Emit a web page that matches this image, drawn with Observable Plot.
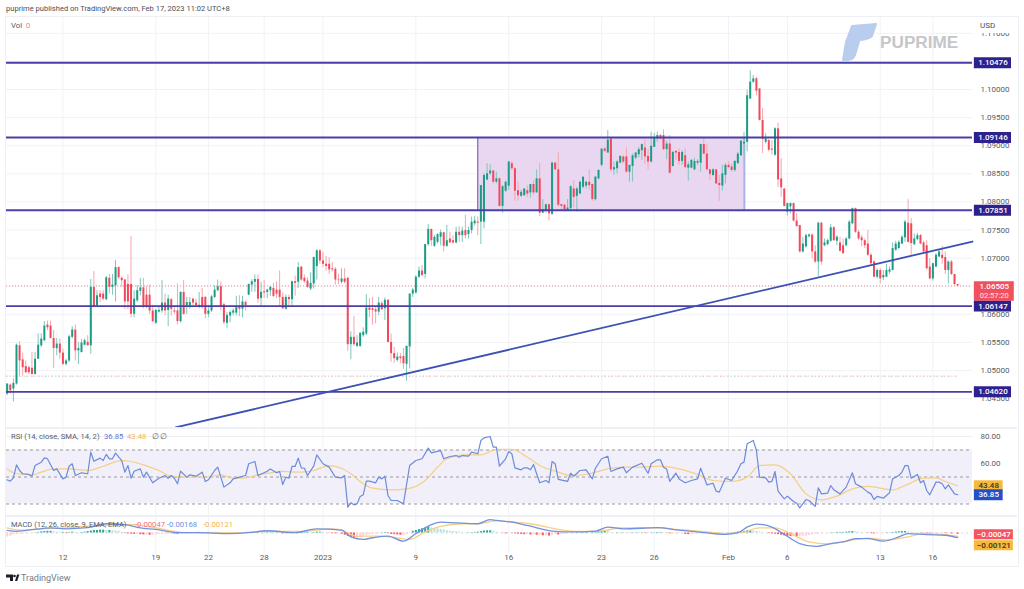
<!DOCTYPE html>
<html><head><meta charset="utf-8">
<script src="https://cdn.jsdelivr.net/npm/d3@7"></script>
<script src="https://cdn.jsdelivr.net/npm/@observablehq/plot@0.6"></script>
<style>
html,body{margin:0;padding:0;background:#fff;width:1024px;height:589px;overflow:hidden;font-family:Roboto,sans-serif}
.abs{position:absolute;white-space:nowrap;line-height:1}
#frame{position:absolute;left:5px;top:16px;width:1012px;height:549px;border:1.5px solid #eef0f6;box-sizing:content-box;pointer-events:none}
.sep{position:absolute;left:6px;width:1011px;height:1.5px;background:#eef0f6}
.pane{position:absolute;left:0}
.pane svg{display:block}
</style></head><body>
<script>
// candle values, in pips above 1.0000, 4-hour bars from the January 2023 EUR/USD chart
const opens=[458,474,467,476,544,519,507,505,504,493,
520,544,553,581,579,557,539,547,531,511,
517,559,572,535,532,545,550,544,648,615,
636,636,626,664,648,651,683,664,661,653,
653,600,624,641,647,634,634,606,584,604,
606,620,607,626,606,606,587,639,615,615,
627,620,613,630,630,600,606,630,642,649,
617,584,597,602,602,614,609,621,634,652,
657,662,628,640,639,642,646,643,643,630,
609,630,626,658,657,684,664,659,645,654,
685,713,695,689,689,681,680,661,657,663,
664,546,559,543,543,562,565,611,610,608,
604,619,610,625,550,530,518,524,525,511,
542,636,638,666,677,671,724,751,721,728,
737,745,721,734,731,727,746,740,749,742,
749,761,764,764,764,839,850,855,835,841,
792,819,828,868,859,820,810,811,820,816,
831,816,841,780,785,795,778,869,857,795,
794,785,788,823,810,814,826,828,835,831,
804,841,865,894,887,912,857,859,869,880,
880,853,863,878,884,891,896,881,871,897,
912,918,918,893,903,863,890,888,872,882,
860,860,857,869,869,902,885,857,847,857,
833,828,847,865,862,856,868,882,903,906,
983,1013,1019,1001,945,906,909,894,883,930,
841,823,782,791,797,766,758,711,720,738,
741,711,693,762,722,724,730,754,730,727,
722,722,734,761,788,746,736,731,725,705,
693,666,678,665,666,675,678,714,717,725,
736,762,761,724,733,740,727,722,684,663,
684,702,705,701,678,693,671,653];
const highs=[476,476,485,547,551,531,517,508,532,532,
565,565,587,588,588,571,557,556,538,520,
563,578,581,550,555,556,562,662,676,642,
642,642,667,671,671,696,685,667,662,670,
738,642,651,664,664,649,652,616,609,612,
660,636,634,628,615,654,640,660,630,630,
628,627,639,646,632,616,634,651,661,658,
620,603,606,610,632,633,632,624,654,662,
670,670,657,660,645,649,655,658,677,638,
634,634,659,668,692,685,670,665,674,702,
715,715,710,703,701,692,683,671,681,681,
666,569,596,562,568,576,635,628,630,613,
630,623,629,626,565,541,531,530,539,543,
636,646,669,684,687,724,760,752,740,743,
750,746,758,746,740,755,756,755,776,755,
773,774,773,829,850,868,866,856,853,843,
829,837,872,872,861,836,821,823,829,831,
838,857,868,804,796,796,871,871,887,796,
796,804,829,838,826,837,844,837,857,832,
845,857,894,897,927,914,871,874,882,882,
896,865,885,888,897,903,910,894,924,922,
924,920,928,908,918,890,891,894,891,894,
871,875,877,875,903,912,903,857,859,857,
847,865,868,871,868,874,888,909,924,999,
1033,1025,1022,1001,966,921,911,909,932,940,
877,823,798,798,798,779,758,737,743,743,
743,722,764,764,734,734,760,756,740,737,
734,737,767,789,789,749,740,734,749,708,
696,681,681,678,689,684,727,730,731,740,
767,804,770,743,744,742,730,731,699,691,
708,714,721,711,695,696,671,653];
const lows=[455,458,444,474,490,490,495,493,492,492,
520,541,551,571,556,504,526,520,508,508,
514,556,517,511,531,544,543,529,612,612,
621,624,624,636,634,622,662,648,608,608,
594,594,621,633,610,610,600,585,582,602,
602,598,578,597,600,581,584,598,600,609,
615,612,610,609,592,594,603,628,640,606,
582,575,585,597,597,596,594,606,633,639,
639,620,614,628,628,632,630,628,612,608,
608,615,614,632,646,659,655,646,642,645,
661,689,683,677,671,675,652,652,654,654,
534,519,543,541,541,559,562,594,581,583,
598,607,589,549,515,513,515,512,502,481,
503,630,636,664,667,663,721,721,719,725,
722,711,719,727,725,725,728,728,734,734,
743,757,740,724,752,838,847,832,832,791,
780,817,820,856,801,802,808,810,808,807,
811,816,774,779,780,766,776,856,791,785,
782,783,786,789,782,813,823,823,820,801,
802,839,862,888,887,853,847,850,868,868,
851,835,835,875,878,874,867,857,869,897,
906,909,891,875,850,862,874,865,865,859,
837,859,856,865,853,884,855,838,845,831,
801,819,832,859,853,853,867,881,885,889,
982,1011,989,944,886,903,889,883,881,826,
808,791,775,779,764,755,709,709,718,736,
699,690,667,687,720,722,728,730,722,711,
706,720,733,759,744,731,720,717,703,687,
665,663,654,660,665,671,677,712,715,724,
728,727,705,722,731,724,708,679,661,659,
683,701,689,671,654,669,651,649];
const closes=[476,464,477,545,517,505,496,496,493,520,
545,556,579,576,557,539,547,531,511,517,
560,572,535,539,549,553,544,648,614,633,
630,627,665,648,652,683,665,660,622,622,
600,627,642,647,612,612,606,587,607,607,
620,606,627,609,604,587,639,600,621,621,
620,615,616,612,600,606,631,643,649,614,
585,598,603,606,612,609,622,615,653,658,
662,627,639,638,643,648,632,636,630,610,
630,626,658,655,683,661,658,648,655,701,
713,695,689,685,679,679,661,660,663,657,
546,559,546,549,566,568,611,607,607,604,
620,608,625,550,530,521,524,521,512,543,
636,643,666,677,669,724,751,731,737,742,
745,721,731,727,727,746,740,748,740,749,
764,766,762,829,847,850,855,835,841,792,
827,835,871,859,819,811,817,823,814,831,
816,841,780,786,795,779,869,857,794,792,
786,789,827,808,823,835,844,835,829,804,
844,856,894,890,910,857,861,871,881,871,
853,865,882,887,893,902,880,871,899,914,
918,914,893,903,851,888,887,872,888,861,
866,874,872,872,902,885,857,849,857,832,
829,850,865,861,856,872,885,908,906,989,
1013,1019,997,945,911,912,892,892,930,839,
825,792,797,797,766,756,711,725,740,741,
711,693,762,693,727,731,754,731,737,712,
708,734,764,788,746,734,731,722,705,690,
666,678,663,669,678,679,717,725,728,737,
764,728,726,734,740,725,711,681,663,690,
705,711,699,678,693,671,653,650.5];

const levels=[1.10476,1.09146,1.07851,1.06147,1.0462];
const priceGrid=[1.045,1.05,1.055,1.06,1.065,1.07,1.075,1.08,1.085,1.09,1.095,1.1,1.105,1.11];
const priceLabels=[1.045,1.05,1.055,1.06,1.065,1.07,1.075,1.08,1.085,1.09,1.095,1.1,1.11];
const lastPrice=1.06505, oldClose=1.04899;
const boxStart=152, boxEnd=238.1, boxTop=1.09146, boxBottom=1.07851;
const trendBars=[54.4,311.8], trendPrices=[1.03986,1.07295];

const timeIdx=[18,48,65,83,102,132,162,192,209,233,252,282,299];
const timeLabels=["12","19","22","28","2023","9","16","23","26","Feb","6","13","16"];

const rsiIdx=[0,1,2,3,4,5,7,8,9,11,12,13,15,16,18,19,20,21,22,24,26,27,28,30,31,32,33,34,35,37,38,39,40,41,43,44,45,47,49,51,52,53,54,55,56,58,59,61,63,64,65,67,68,70,72,73,75,77,78,80,81,84,85,87,88,89,90,91,92,93,94,95,96,97,99,100,102,104,106,108,
109,110,111,112,113,114,115,116,117,119,120,121,122,123,124,126,128,130,132,134,136,137,140,141,143,145,146,147,149,150,152,153,154,156,157,158,159,161,162,163,164,166,167,168,169,170,172,174,175,176,177,178,181,182,183,185,187,189,190,192,194,195,197,199,200,202,205,207,208,210,211,212,213,214,216,217,
219,221,223,224,226,228,229,230,232,234,236,237,238,239,241,242,243,245,246,247,248,249,251,252,254,255,256,258,259,261,262,263,265,266,267,269,271,273,274,276,278,279,280,281,283,285,286,288,289,290,291,292,294,295,296,297,298,300,301,302,303,304,306,307];
const rsiVals=[47.9,46.9,49.4,59.0,54.8,52.4,51.9,50.6,58.5,61.0,64.2,63.5,54.8,56.0,48.6,49.9,58.0,59.8,51.1,53.1,52.4,68.4,61.7,64.0,62.2,66.7,63.5,63.5,67.7,62.2,53.6,58.5,49.1,54.3,56.0,49.9,53.6,45.7,49.1,51.1,49.1,51.1,49.1,45.0,54.3,49.9,51.6,50.6,53.6,46.7,47.9,54.8,57.3,42.5,45.7,48.6,49.9,51.1,59.8,61.5,51.1,54.3,56.0,53.1,54.1,44.4,49.9,49.1,57.8,57.8,64.0,56.8,56.5,51.1,58.0,66.4,59.8,57.3,49.9,49.4,
51.1,27.7,30.9,29.4,30.1,35.6,36.8,46.9,46.9,45.7,49.9,48.6,50.6,36.3,32.6,32.6,30.1,58.5,62.2,63.5,71.4,67.9,69.6,63.5,65.2,65.9,64.7,65.9,65.4,68.4,67.2,77.0,79.0,80.0,72.1,72.1,58.0,63.5,68.9,67.2,56.8,55.3,56.8,56.8,55.3,59.3,45.7,47.4,45.7,61.5,59.8,48.2,46.7,52.8,50.6,54.8,55.3,48.6,56.5,63.5,65.4,54.1,56.0,57.3,53.1,57.3,60.2,52.8,59.8,62.7,62.7,57.3,56.0,46.7,52.8,48.6,
45.7,47.4,48.6,56.5,44.2,45.4,39.5,38.8,49.1,47.4,54.8,59.8,61.0,74.6,77.0,69.6,49.9,49.4,46.2,46.7,54.1,39.5,33.8,35.8,31.9,30.6,27.1,33.3,32.6,28.2,42.0,37.5,38.0,43.7,40.5,37.5,42.5,53.1,45.0,42.5,38.8,37.5,33.3,35.6,34.3,38.3,48.6,51.1,53.6,58.5,58.5,49.1,51.9,45.7,47.4,40.0,36.8,46.2,46.2,45.0,41.2,44.2,37.5,36.85];
const rsiMaIdx=[0,3,8,11,15,20,26,31,37,40,44,49,53,58,64,69,73,77,81,85,89,95,99,104,108,111,115,118,124,129,135,139,142,148,153,158,163,168,172,178,182,188,194,199,205,211,217,223,228,234,239,243,248,253,258,263,268,273,278,286,290,296,300,303,307];
const rsiMaVals=[56.0,52.4,51.6,53.6,56.0,56.0,54.8,58.0,62.2,61.5,59.0,54.8,50.6,49.9,49.9,51.6,49.1,49.4,51.6,53.1,54.1,53.6,54.8,58.5,56.5,52.4,45.0,41.7,40.5,41.2,47.4,57.3,63.5,66.4,66.4,70.4,70.4,64.7,58.5,53.6,51.1,52.4,56.0,57.3,57.3,58.0,56.0,51.9,47.4,46.7,49.9,58.5,59.0,52.4,37.5,33.1,35.8,41.2,43.0,40.5,43.7,49.1,49.4,46.7,43.48];
const rsiGrid=[40,60,80], rsiLabels=[60,80], rsiBands=[70,50,30];

// MACD lines and histogram in pips (0.0001)
const macdIdx=[0,3,9,14,19,26,32,38,43,48,55,62,71,78,84,93,100,108,111,115,118,123,128,132,137,140,145,152,156,158,163,168,176,183,190,194,199,210,217,223,232,236,239,242,247,251,256,261,267,270,274,278,283,288,291,297,303,307];
const macdVals=[9.5,6,13,18,15,19,33,30,18,13,1,1,-2,1,8,1,15,10,-14,-23,-17,-11,-29,-2,30,39,36,33,48,45,39,27,7,4,7,21,15,19,10,4,-5,1,21,32,21,-5,-38,-48,-36,-32,-20,-20,-29,-14,-2,-6,-8,-16.8];
const signalIdx=[0,4,11,19,30,41,48,58,73,84,95,105,108,113,120,124,130,135,140,147,152,158,164,169,177,183,191,199,210,217,224,232,237,243,248,253,259,265,271,278,284,291,296,303,307];
const signalVals=[18,10,15,18,27,30,18,1,0,6,6,15,10,-12,-11,-14,-23,4,24,33,33,43,39,33,15,6,7,18,18,12,6,-2,1,18,18,-2,-32,-39,-30,-18,-25,-14,-2,-6,-12.1];
const macdHist=[-14,-12,-7,-5,-4,-3,-2,-2,-1,1,
2,4,5,6,6,5,3,2,2,-2,
2,3,2,1,2,3,5,7,9,9,
10,10,9,9,8,7,6,3,-2,-3,
-4,-5,-5,-6,-7,-7,-8,-8,-6,-5,
-5,-4,-4,-3,-4,-5,-3,-2,-2,-1,
1,2,2,-2,1,2,1,2,2,-1,
-3,-3,-2,-1,-1,-1,-1,-1,1,2,
2,2,1,1,1,1,1,1,-1,-3,
-3,-2,-1,-1,1,2,2,2,1,2,
3,3,2,1,-1,-2,-3,-3,-4,-8,
-12,-16,-18,-18,-14,-11,-8,-7,-5,-4,
-2,1,2,-2,-5,-6,-7,-8,-8,-6,
-2,6,9,12,15,18,21,18,16,15,
13,11,8,6,5,4,3,2,1,1,
1,2,3,5,7,8,8,6,3,1,
-1,-3,-2,1,-3,-4,-5,-6,-6,-7,
-7,-8,-8,-10,-10,-11,-8,-6,-7,-6,
-5,-3,-2,-1,1,1,1,2,1,2,
3,5,6,7,5,2,1,1,1,-1,
-1,1,1,1,1,1,-2,-2,1,1,
2,2,1,-1,-3,-3,-3,-3,-3,-5,
-6,-5,-4,-3,-2,-2,-2,-2,-3,-3,
-2,-1,-1,1,1,2,3,5,6,8,
8,7,5,4,2,1,-2,-3,-4,-6,
-8,-10,-12,-13,-13,-14,-14,-12,-11,-9,
-7,-5,-4,-2,-1,-1,1,1,2,2,
2,3,4,5,4,3,2,1,-1,-2,
-3,-2,-2,-1,1,1,2,3,4,5,
5,4,3,2,1,1,-1,-2,-3,-3,
-2,-1,-1,-2,-2,-3,-3,-4.7];
const macdTicksZero=[0];

const PIP=1e-4;
const UP="#1b9c85", DOWN="#f1485c", WICK_UP="#7cc7b9", WICK_DOWN="#f8a4ad";
const LEVEL="#4a3ea8", TAG="#2f2090", TREND="#3b51b3";
const TXT="#5a5c63", FONT="Roboto, sans-serif";

const candles=opens.map((o,i)=>({i,o:1+o*PIP,h:1+highs[i]*PIP,l:1+lows[i]*PIP,c:1+closes[i]*PIP,up:closes[i]>=o}));

// shared bar-index scale
const xDomain=[-0.226,311.8];
const tagL=312.4, tagR=324.4, tagMid=318.4, tagShortR=321.7, tagShortMid=317.05, tagLongR=325.3, tagLongMid=318.85;
const xScale={domain:xDomain,range:[6,972],axis:null};

function pane(top,height,opts){
  const el=Plot.plot({width:1024,height,marginLeft:6,marginRight:52,marginTop:0,marginBottom:opts.marginBottom||0,
    style:{background:"transparent",fontFamily:FONT,fontSize:"8px",overflow:"visible"},
    x:xScale,y:{domain:opts.yDomain,axis:null},marks:opts.marks});
  const d=document.createElement("div");d.className="pane";d.style.top=top+"px";d.appendChild(el);document.body.appendChild(d);
}

const fmt5=d3.format(".5f");
const gridV=Plot.gridX(timeIdx,{stroke:"#f1f2f5",strokeOpacity:1});

// ---- main price pane
pane(17,411,{yDomain:[1.03968,1.112811],marks:[
  Plot.gridY(priceGrid,{x1:xDomain[0],x2:xDomain[1],stroke:"#f1f2f5",strokeOpacity:1}),
  gridV,
  Plot.rect([{}],{x1:()=>boxStart,x2:()=>boxEnd,y1:()=>boxBottom,y2:()=>boxTop,fill:"#e9d6f0"}),
  Plot.ruleX([boxStart],{y1:boxBottom,y2:boxTop,stroke:"#5d55b5",strokeWidth:1}),
  Plot.ruleX([boxEnd],{y1:boxBottom,y2:boxTop,stroke:"#a9b1e0",strokeWidth:2}),
  Plot.ruleY([oldClose],{x1:xDomain[0],x2:307,stroke:"#f6b9c0",strokeWidth:1,strokeDasharray:"1.5,2"}),
  Plot.ruleY([oldClose],{x1:xDomain[0],x2:307,stroke:"#b5e0d8",strokeWidth:1,strokeDasharray:"1.5,5"}),
  Plot.ruleY([lastPrice],{x1:xDomain[0],x2:xDomain[1],stroke:"#f58b97",strokeWidth:1,strokeDasharray:"1,2"}),
  Plot.ruleX(candles,{x:"i",y1:"l",y2:"h",stroke:d=>d.up?WICK_UP:WICK_DOWN,strokeWidth:1}),
  Plot.ruleX(candles,{x:"i",y1:d=>Math.min(d.o,d.c),y2:d=>Math.max(d.o,d.c),stroke:d=>d.up?UP:DOWN,strokeWidth:2}),
  Plot.ruleY(levels,{x1:xDomain[0],x2:xDomain[1],stroke:LEVEL,strokeWidth:1.8}),
  Plot.line(trendBars.map((b,k)=>({b,p:trendPrices[k]})),{x:"b",y:"p",stroke:TREND,strokeWidth:1.8}),
  Plot.axisY(priceLabels,{anchor:"right",tickSize:0,tickPadding:8,tickFormat:fmt5,label:null,fill:TXT,fontSize:8}),
  Plot.ruleY(levels,{x1:tagL,x2:tagR,stroke:TAG,strokeWidth:11}),
  Plot.text(levels,{x:tagMid,y:d=>d,text:fmt5,fill:"#fff",fontSize:8,fontWeight:500}),
  Plot.ruleY([lastPrice],{x1:tagL,x2:tagLongR,stroke:"#f0505f",strokeWidth:19.5,dy:5}),
  Plot.text([lastPrice],{x:tagLongMid,y:d=>d,text:fmt5,fill:"#fff",fontSize:8,fontWeight:500,dy:0.5}),
  Plot.text([lastPrice],{x:tagLongMid,y:d=>d,text:()=>"02:57:20",fill:"#ffe3e6",fontSize:7.5,dy:9.5})
]});

// ---- RSI pane
const rsiLine=rsiIdx.map((i,k)=>({i,v:rsiVals[k]}));
const rsiMaLine=rsiMaIdx.map((i,k)=>({i,v:rsiMaVals[k]}));
pane(428,88,{yDomain:[20.74,85.93],marks:[
  Plot.rect([{}],{x1:()=>xDomain[0],x2:()=>xDomain[1],y1:()=>30,y2:()=>70,fill:"#f1eff9"}),
  Plot.gridY(rsiGrid,{x1:xDomain[0],x2:xDomain[1],stroke:"#eeeef3",strokeOpacity:1}),
  gridV,
  Plot.ruleY(rsiBands,{x1:xDomain[0],x2:xDomain[1],stroke:"#9a9aa0",strokeWidth:1,strokeDasharray:"3,3"}),
  Plot.line(rsiMaLine,{x:"i",y:"v",stroke:"#f6cf83",strokeWidth:1.2,curve:"monotone-x"}),
  Plot.line(rsiLine,{x:"i",y:"v",stroke:"#6d8bdc",strokeWidth:1.2}),
  Plot.axisY(rsiLabels,{anchor:"right",tickSize:0,tickPadding:8,tickFormat:d3.format(".2f"),label:null,fill:TXT,fontSize:8}),
  Plot.ruleY([43.48],{x1:tagL,x2:tagShortR,stroke:"#f6b93b",strokeWidth:11}),
  Plot.text([43.48],{x:tagShortMid,y:d=>d,text:d3.format(".2f"),fill:"#3a3320",fontSize:8,fontWeight:500}),
  Plot.ruleY([36.85],{x1:tagL,x2:tagShortR,stroke:"#2450c5",strokeWidth:11}),
  Plot.text([36.85],{x:tagShortMid,y:d=>d,text:d3.format(".2f"),fill:"#fff",fontSize:8,fontWeight:500})
]});

// ---- MACD pane with the time axis
const histBars=macdHist.map((v,i)=>{
  const prev=i?macdHist[i-1]:v;
  return {i,v:v*PIP,color:v>=0?(v>=prev?"#26a69a":"#b7e1db"):(v<prev?"#ff5260":"#ffcfd4")};
});
const macdLine=macdIdx.map((i,k)=>({i,v:macdVals[k]*PIP}));
const signalLine=signalIdx.map((i,k)=>({i,v:signalVals[k]*PIP}));
const lab=new Map(timeIdx.map((t,k)=>[t,timeLabels[k]]));
pane(516,50,{yDomain:[-0.00804,0.00589],marginBottom:11,marks:[
  gridV,
  Plot.ruleY(macdTicksZero,{x1:xDomain[0],x2:xDomain[1],stroke:"#d9d9de",strokeWidth:1,strokeDasharray:"2,3"}),
  Plot.ruleX(histBars,{x:"i",y1:()=>0,y2:"v",stroke:"color",strokeWidth:2}),
  Plot.line(signalLine,{x:"i",y:"v",stroke:"#f7cf85",strokeWidth:1.3,curve:"monotone-x"}),
  Plot.line(macdLine,{x:"i",y:"v",stroke:"#7391e0",strokeWidth:1.3,curve:"monotone-x"}),
  Plot.axisX(timeIdx,{anchor:"bottom",tickSize:0,tickPadding:-1,tickFormat:d=>lab.get(d),label:null,fill:TXT,fontSize:8}),
  Plot.ruleY([-0.00047],{x1:tagL,x2:tagR+0.6,stroke:"#f8535f",strokeWidth:10}),
  Plot.text([-0.00047],{x:tagMid+0.3,y:d=>d,text:fmt5,fill:"#fff",fontSize:8,fontWeight:500}),
  Plot.ruleY([-0.00121],{x1:tagL,x2:tagR+0.6,stroke:"#f6b93b",strokeWidth:10,dy:8.8}),
  Plot.text([-0.00121],{x:tagMid+0.3,y:d=>d,text:fmt5,fill:"#3a3320",fontSize:8,fontWeight:500,dy:8.8})
]});

// ---- frame, labels and logos (text stays real text)
function label(text,left,top,size,color,extra){
  const s=document.createElement("div");s.className="abs";s.textContent=text;
  s.style.cssText+=`left:${left}px;top:${top}px;font-size:${size}px;color:${color};`+(extra||"");
  document.body.appendChild(s);return s;
}
const frame=document.createElement("div");frame.id="frame";document.body.appendChild(frame);
[427,515].forEach(t=>{const s=document.createElement("div");s.className="sep";s.style.top=t+"px";document.body.appendChild(s);});
label("",974,18,8,"#000","width:40px;height:15px;background:#fff;");
label("puprime published on TradingView.com, Feb 17, 2023 11:02 UTC+8",6,5,7.56,"#4b4d55");
label("USD",980,21.5,8,"#4b4d55");
label("Vol",11,22,7.8,"#5a5c63");
label("0",26,22,7.8,"#f6808c");
label("RSI (14, close, SMA, 14, 2)",11,433,7.7,"#5a5c63");
label("36.85",104,433,7.7,"#5a78d8");
label("43.48",127,433,7.7,"#f4b64a");
label("∅",152,433,7.7,"#5a5c63");
label("∅",160,433,7.7,"#5a5c63");
label("MACD (12, 26, close, 9, EMA, EMA)",11,521,7.5,"#5a5c63");
label("-0.00047",135,521,7.7,"#f6717c");
label("-0.00168",167,521,7.7,"#6f8ee0");
label("-0.00121",203,521,7.7,"#f4b64a");
label("PUPRIME",880,33.5,17.2,"#c6c6ca","font-family:'Liberation Sans';font-weight:700;");
label("TradingView",21,573.5,9,"#787a82");
const ns=document.createElement("div");
ns.innerHTML=`<svg class="abs" style="left:0;top:0;pointer-events:none" width="1024" height="589" viewBox="0 0 1024 589">
<g fill="#b9cdee" stroke="#b9cdee" stroke-width="2" stroke-linejoin="round"><path d="M852 26 L864 25 L855 55 Q853 60 848 60 L843 60 L846 42 Z"/><path d="M865 25 L876 24 L872 36 Q870 39 861 40 Z"/></g>
<g fill="#1b1e27"><path d="M6 574.5H13V581H10V577.5H6Z"/><circle cx="14.5" cy="576" r="1.3"/><path d="M15 581 L17 574.5H19.4 L17.2 581Z"/></g></svg>`;
document.body.appendChild(ns);
</script>
</body></html>
